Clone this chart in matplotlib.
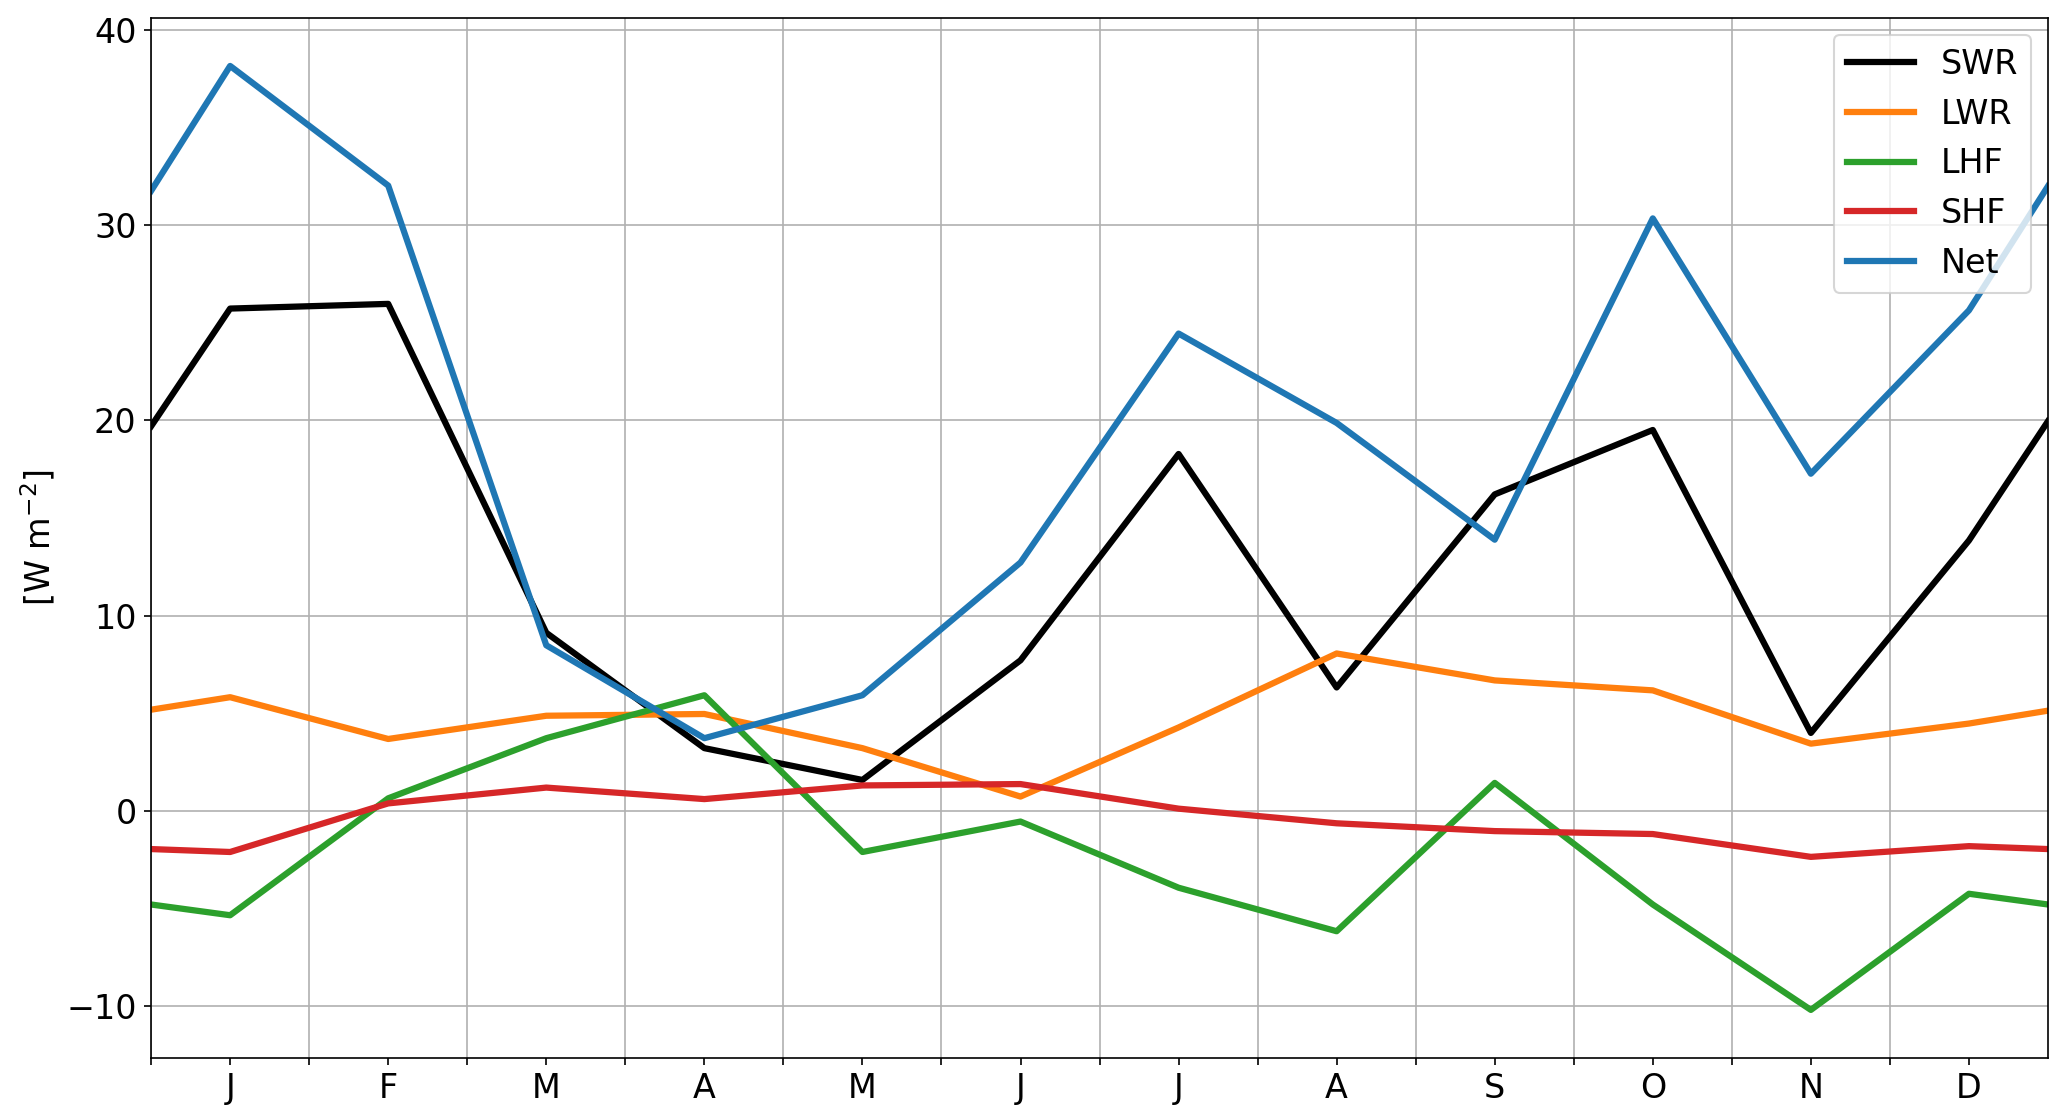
import numpy as np
import matplotlib
matplotlib.use("Agg")
import matplotlib.pyplot as plt

# etiquetas de los meses
months = ['J', 'F', 'M', 'A', 'M', 'J', 'J', 'A', 'S', 'O', 'N', 'D']

# posiciones: borde izquierdo, centro de cada mes, borde derecho
x = np.concatenate(([0], np.arange(12) + 0.5, [12]))

# flujos [W m-2] (borde, ene..dic, borde)
swr = [19.7, 25.73, 25.97, 9.12, 3.21, 1.58, 7.71, 18.28, 6.32, 16.21, 19.51, 3.99, 13.85, 19.96]
lwr = [5.18, 5.82, 3.68, 4.87, 4.96, 3.21, 0.73, 4.27, 8.06, 6.68, 6.17, 3.44, 4.47, 5.13]
lhf = [-4.80, -5.35, 0.64, 3.72, 5.92, -2.11, -0.55, -3.94, -6.17, 1.43, -4.80, -10.20, -4.25, -4.80]
shf = [-1.96, -2.11, 0.38, 1.19, 0.60, 1.30, 1.37, 0.11, -0.64, -1.04, -1.19, -2.36, -1.81, -1.96]
net = [31.76, 38.16, 32.03, 8.48, 3.72, 5.92, 12.72, 24.45, 19.87, 13.89, 30.35, 17.27, 25.64, 32.0]

plt.rcParams['font.size'] = 16

fig = plt.figure(figsize=(2067 / 150, 1120 / 150), dpi=150)
ax = fig.add_axes([0.0731, 0.0556, 0.9177, 0.9284])

ax.plot(x, swr, color='k', lw=3, label='SWR')
ax.plot(x, lwr, color='tab:orange', lw=3, label='LWR')
ax.plot(x, lhf, color='tab:green', lw=3, label='LHF')
ax.plot(x, shf, color='tab:red', lw=3, label='SHF')
ax.plot(x, net, color='tab:blue', lw=3, label='Net')

ax.set_xlim(0, 12)
ax.set_ylim(-12.65, 40.62)
ax.set_yticks([-10, 0, 10, 20, 30, 40])

# ticks mayores en los bordes de los meses (con rejilla), menores en el centro (con etiqueta)
ax.set_xticks(np.arange(12))
ax.set_xticklabels([])
ax.set_xticks(np.arange(12) + 0.5, minor=True)
ax.set_xticklabels(months, minor=True)
ax.tick_params(axis='x', which='minor', length=3.5, width=0.8)
ax.tick_params(which='both', labelsize=16)
ax.grid(True, color='#b0b0b0', lw=0.8)

ax.set_ylabel('[W m$^{-2}$]', fontsize=16)
ax.legend(loc='upper right', fontsize=16)

fig.savefig('out.png', dpi=150)
